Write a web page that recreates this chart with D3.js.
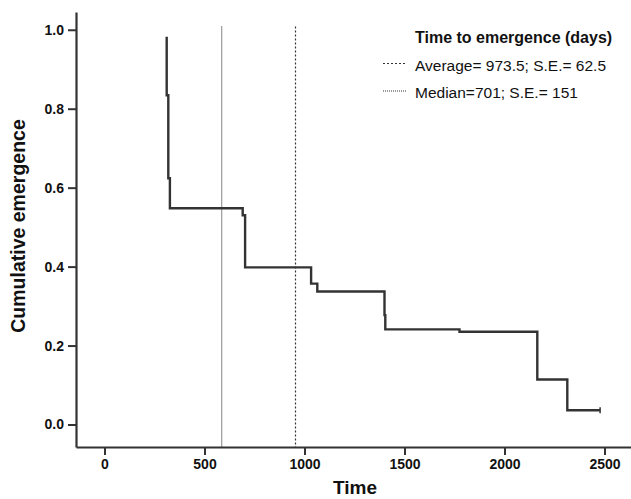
<!DOCTYPE html>
<html>
<head>
<meta charset="utf-8">
<script src="https://cdn.jsdelivr.net/npm/d3@7"></script>
<style>
  body { margin: 0; background: #fff; }
  svg { display: block; font-family: Arial, "Liberation Sans", sans-serif; }
</style>
</head>
<body>
<div id="chart"></div>
<script>
// Kaplan-Meier style step data
const eventTimes = [311, 311, 319, 327, 691, 703, 1033, 1064, 1400, 1404, 1775, 2164, 2314, 2478];
const survival = [0.982, 0.834, 0.624, 0.548, 0.530, 0.398, 0.357, 0.337, 0.277, 0.241, 0.235, 0.114, 0.036, 0.036];
const censorTimes = [2478];
const censorValues = [0.036];

// Reference lines (drawn positions) and legend labels
const refNames = ["Average", "Median"];
const refTimes = [955, 586];
const refLabels = ["Average= 973.5; S.E.= 62.5", "Median=701; S.E.= 151"];
const refDash = ["2,2", "1,1"];
const refColor = ["#333", "#333"];

const xTicks = [0, 500, 1000, 1500, 2000, 2500];
const yTicks = [0.0, 0.2, 0.4, 0.6, 0.8, 1.0];

const W = 631, H = 499;
const svg = d3.select("#chart").append("svg")
    .attr("width", W)
    .attr("height", H);

// Scales
const x = d3.scaleLinear().domain([-142.5, 2632.5]).range([76, 631]);
const y = d3.scaleLinear().domain([-0.057, 1.045]).range([447, 12]);

// Y axis
const yAxis = svg.append("g")
    .attr("transform", "translate(76,0)")
    .call(d3.axisLeft(y).tickValues(yTicks).tickFormat(d3.format(".1f")).tickSize(8).tickSizeOuter(0).tickPadding(4));

// X axis
const xAxis = svg.append("g")
    .attr("transform", "translate(0,447)")
    .call(d3.axisBottom(x).tickValues(xTicks).tickFormat(d3.format("d")).tickSize(8).tickSizeOuter(0).tickPadding(4));

[xAxis, yAxis].forEach(g => {
    g.attr("font-size", null).attr("font-family", null);
    g.select(".domain").attr("stroke", "#333").attr("stroke-width", 2.2);
    g.selectAll(".tick line").attr("stroke", "#333").attr("stroke-width", 2);
    g.selectAll(".tick text")
        .attr("fill", "#111")
        .style("font-size", "14px")
        .style("font-weight", "bold")
        .style("font-family", "Arial, 'Liberation Sans', sans-serif");
});

// Reference vertical lines
svg.selectAll(".refline")
    .data(refTimes)
    .enter().append("line")
    .attr("class", "refline")
    .attr("x1", d => x(d))
    .attr("x2", d => x(d))
    .attr("y1", y(1.008))
    .attr("y2", y(-0.057))
    .attr("stroke", (d, i) => refColor[i])
    .attr("stroke-width", 1.2)
    .attr("stroke-dasharray", (d, i) => refDash[i]);

// Step curve
const pts = eventTimes.map((t, i) => [t, survival[i]]);
const line = d3.line()
    .x(d => x(d[0]))
    .y(d => y(d[1]))
    .curve(d3.curveStepAfter);

svg.append("path")
    .datum(pts)
    .attr("d", line)
    .attr("fill", "none")
    .attr("stroke", "#333")
    .attr("stroke-width", 2.4);

// Censor marks
svg.selectAll(".censor")
    .data(censorTimes)
    .enter().append("line")
    .attr("class", "censor")
    .attr("x1", d => x(d))
    .attr("x2", d => x(d))
    .attr("y1", (d, i) => y(censorValues[i]) - 3)
    .attr("y2", (d, i) => y(censorValues[i]) + 3)
    .attr("stroke", "#333")
    .attr("stroke-width", 1.5);

// Legend
const legend = svg.append("g");
legend.append("text")
    .attr("x", 415)
    .attr("y", 43)
    .style("font-size", "16px")
    .style("font-weight", "bold")
    .attr("fill", "#111")
    .text("Time to emergence (days)");

refNames.forEach((name, i) => {
    const ly = 63.5 + i * 27.5;
    legend.append("line")
        .attr("x1", 383)
        .attr("x2", 407)
        .attr("y1", ly)
        .attr("y2", ly)
        .attr("stroke", refColor[i])
        .attr("stroke-width", 1.2)
        .attr("stroke-dasharray", refDash[i]);
    legend.append("text")
        .attr("x", 415)
        .attr("y", ly + 7)
        .style("font-size", "15.5px")
        .attr("fill", "#111")
        .text(refLabels[i]);
});

// Axis titles
svg.append("text")
    .attr("x", 355)
    .attr("y", 494)
    .style("text-anchor", "middle")
    .style("font-size", "19px")
    .style("font-weight", "bold")
    .attr("fill", "#111")
    .text("Time");

svg.append("text")
    .attr("transform", "translate(25,226) rotate(-90)")
    .style("text-anchor", "middle")
    .style("font-size", "19.5px")
    .style("font-weight", "bold")
    .attr("fill", "#111")
    .text("Cumulative emergence");
</script>
</body>
</html>
